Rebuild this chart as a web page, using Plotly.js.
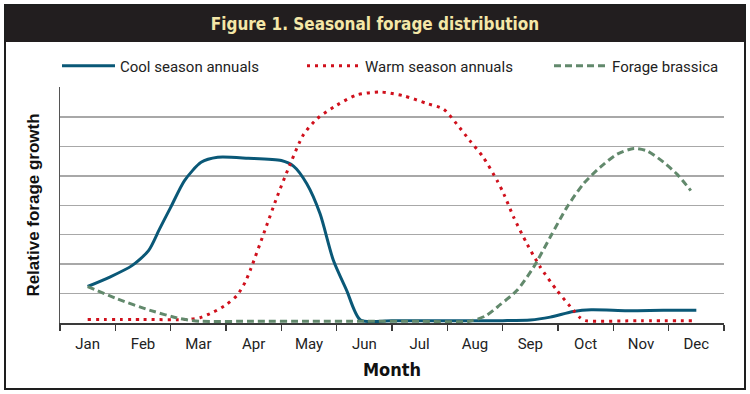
<!DOCTYPE html>
<html><head><meta charset="utf-8">
<script src="https://cdn.plot.ly/plotly-3.0.1.min.js"></script>
<style>html,body{margin:0;padding:0;background:#fff}#chart{width:750px;height:394px}</style>
</head><body><div id="chart"></div>
<script>
var months = ["Jan","Feb","Mar","Apr","May","Jun","Jul","Aug","Sep","Oct","Nov","Dec"];
var monthPos = [1,2,3,4,5,6,7,8,9,10,11,12];
var monthEdges = [0.5,1.5,2.5,3.5,4.5,5.5,6.5,7.5,8.5,9.5,10.5,11.5,12.5];

var coolX = [1, 1.4, 1.8, 2.1, 2.3, 2.5, 2.75, 3.05, 3.35, 3.9, 4.5, 4.72, 4.96, 5.2, 5.44, 5.68, 5.93, 6.5, 7.5, 8.5, 9.0, 9.36, 9.78, 10.1, 10.75, 11.4, 12];
var coolY = [1.24, 1.56, 1.95, 2.46, 3.2, 3.93, 4.84, 5.46, 5.63, 5.6, 5.52, 5.33, 4.73, 3.71, 2.13, 1.11, 0.1, 0.08, 0.08, 0.08, 0.1, 0.2, 0.39, 0.45, 0.42, 0.43, 0.43];

var warmX = [1, 2, 2.8, 3.03, 3.27, 3.51, 3.7, 3.85, 3.95, 4.18, 4.42, 4.66, 4.9, 5.14, 5.5, 5.86, 6.29, 6.71, 7.13, 7.43, 7.67, 7.91, 8.15, 8.4, 8.52, 8.7, 8.94, 9.18, 9.48, 9.78, 9.9, 10.0, 11, 12];
var warmY = [0.12, 0.12, 0.12, 0.18, 0.37, 0.63, 0.94, 1.4, 1.85, 3.03, 4.27, 5.4, 6.4, 6.93, 7.4, 7.75, 7.85, 7.72, 7.46, 7.27, 6.76, 6.19, 5.63, 4.84, 4.39, 3.59, 2.69, 1.9, 1.11, 0.43, 0.18, 0.08, 0.08, 0.08];

var brasX = [1, 1.52, 2.13, 2.67, 3.03, 4, 5, 6, 7, 7.9, 8.2, 8.46, 8.76, 9.06, 9.36, 9.66, 9.96, 10.26, 10.57, 10.87, 11.11, 11.41, 11.65, 11.9];
var brasY = [1.24, 0.83, 0.43, 0.15, 0.06, 0.06, 0.06, 0.06, 0.06, 0.06, 0.25, 0.63, 1.11, 1.9, 2.92, 3.93, 4.73, 5.29, 5.74, 5.93, 5.85, 5.46, 5.06, 4.5];

var names = ["Cool season annuals", "Warm season annuals", "Forage brassica"];

var traces = [
  {x: coolX, y: coolY, name: names[0], legend: "legend", mode: "lines", line: {color: "#0a5877", width: 3, shape: "spline", smoothing: 0.7}},
  {x: warmX, y: warmY, name: names[1], legend: "legend2", mode: "lines", line: {color: "#d0101c", width: 3, dash: "3px,5px", shape: "spline", smoothing: 0.7}},
  {x: brasX, y: brasY, name: names[2], legend: "legend3", mode: "lines", line: {color: "#62896c", width: 3, dash: "7px,4px", shape: "spline", smoothing: 0.7}}
];

var W = 664, H = 236;
function px(x){ return (x - 60) / W; }
function py(y){ return (323 - y) / H; }
var narrow = "Liberation Sans Narrow, Roboto, sans-serif";
var cond = "DejaVu Sans Condensed, Roboto, sans-serif";
function leg(xpx){
  return {orientation: "h", x: px(xpx), xanchor: "left", y: py(66), yanchor: "middle", itemwidth: 53,
          font: {family: narrow, size: 15, color: "#222"}, bgcolor: "rgba(0,0,0,0)"};
}

var layout = {
  width: 750, height: 394,
  margin: {l: 60, r: 26, t: 87, b: 71},
  paper_bgcolor: "#ffffff", plot_bgcolor: "rgba(0,0,0,0)",
  showlegend: true,
  title: {text: "Figure 1. Seasonal forage distribution", x: 0.5, xref: "container", xanchor: "center",
          y: 1 - 24/394, yref: "container", yanchor: "middle",
          font: {family: cond, size: 17, color: "#f4e7a8", weight: "bold"}},
  legend: leg(57), legend2: leg(302), legend3: leg(549),
  xaxis: {range: [0.5, 12.5], tickmode: "array", tickvals: monthPos, ticktext: months,
          ticks: "outside", ticklen: 6, tickcolor: "rgba(0,0,0,0)", showgrid: false, zeroline: false,
          showline: true, linecolor: "#3a3a3a", linewidth: 1.5,
          tickfont: {family: narrow, size: 15, color: "#222"},
          minor: {tickmode: "array", tickvals: monthEdges, ticks: "outside", ticklen: 6, tickwidth: 1.3, tickcolor: "#3a3a3a", showgrid: false},
          title: {text: "Month", standoff: 12, font: {family: cond, size: 18, color: "#111", weight: "bold"}}},
  yaxis: {range: [0, 8.02], tickmode: "linear", tick0: 0, dtick: 1, showticklabels: false, ticks: "",
          showgrid: true, gridcolor: "#a8a8a8", gridwidth: 1.5, zeroline: false,
          showline: true, linecolor: "#555", linewidth: 1.3,
          title: {text: "Relative forage growth", standoff: 14, font: {family: "Liberation Sans", size: 17, color: "#111", weight: "bold"}}},
  shapes: [
    {type: "rect", xref: "paper", yref: "paper", x0: px(5), x1: px(745), y0: py(42), y1: py(5), fillcolor: "#221e1f", line: {width: 0}, layer: "below"},
    {type: "rect", xref: "paper", yref: "paper", x0: px(5), x1: px(745), y0: py(389), y1: py(5), fillcolor: "rgba(0,0,0,0)", line: {color: "#1e1e1e", width: 2}, layer: "below"}
  ]
};

Plotly.newPlot("chart", traces, layout, {displayModeBar: false, staticPlot: true});
</script>
</body></html>
